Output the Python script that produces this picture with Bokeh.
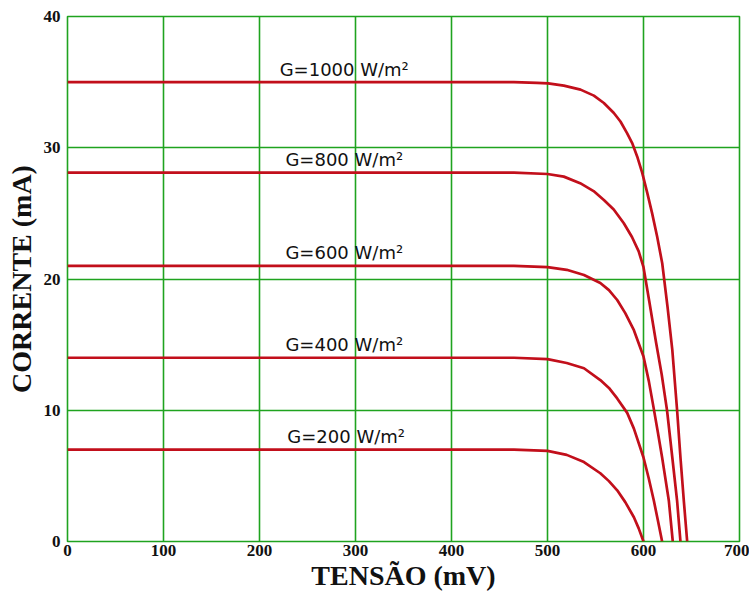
from bokeh.plotting import figure
from bokeh.models import Range1d, FixedTicker
from bokeh.core.properties import value
from bokeh.embed import file_html
from bokeh.resources import INLINE

# ---- data (tensão in mV, corrente in mA) ----
V_1000 = [0, 430, 465, 489, 500.7, 517, 534.4, 548.3, 558.7, 569.1, 576, 583, 588.2, 593.4,
          598.6, 603.8, 609, 614.3, 619.5, 625, 630, 635, 638.5, 642, 645.5]
I_1000 = [35.0, 35.0, 35.0, 34.95, 34.9, 34.73, 34.43, 33.97, 33.41, 32.65, 32.0, 31.1, 30.36, 29.34,
          28.1, 26.6, 25.0, 23.2, 21.2, 17.9, 14.6, 10.0, 6.4, 3.1, 0.0]

V_800 = [0, 430, 465, 500, 517, 534, 548, 559, 569, 579.5, 588, 595, 600, 606, 613, 619, 624.5,
         630, 635, 638.5]
I_800 = [28.1, 28.1, 28.1, 28.0, 27.8, 27.3, 26.7, 26.0, 25.3, 24.25, 23.2, 22.1, 20.9, 18.3, 15.2,
         12.7, 10.0, 6.4, 3.1, 0.0]

V_600 = [0, 430, 465, 500, 520, 538, 555, 564, 572.6, 581, 590, 600, 605.6, 610.5, 615, 619.4,
         626.4, 630.5]
I_600 = [21.0, 21.0, 21.0, 20.9, 20.7, 20.3, 19.7, 19.15, 18.4, 17.4, 16.1, 14.1, 12.2, 10.2, 8.3,
         6.4, 3.1, 0.0]

V_400 = [0, 430, 465, 500, 520, 538, 555, 564, 572.6, 583, 590, 600, 605.5, 610.8, 615, 619.4]
I_400 = [14.0, 14.0, 14.0, 13.9, 13.6, 13.2, 12.3, 11.7, 10.9, 9.8, 8.6, 6.4, 4.8, 3.1, 1.6, 0.0]

V_200 = [0, 430, 465, 500, 520, 538, 555, 564, 572.6, 581, 590, 595, 600]
I_200 = [7.0, 7.0, 7.0, 6.9, 6.6, 6.05, 5.2, 4.6, 3.9, 3.0, 1.85, 1.0, 0.0]

LABELS = ["G=1000 W/m²", "G=800 W/m²", "G=600 W/m²", "G=400 W/m²", "G=200 W/m²"]
LABEL_LEVEL = [35.0, 28.1, 21.0, 14.0, 7.0]
LABEL_X = [221, 227, 227, 227, 229]

X_TICKS = [0, 100, 200, 300, 400, 500, 600, 700]
Y_TICKS = [0, 10, 20, 30, 40]

GREEN = "#1fa31f"
RED = "#c20f1b"

p = figure(width=749, height=594,
           x_range=Range1d(0, 700), y_range=Range1d(0, 40),
           output_backend="svg", toolbar_location=None,
           min_border_left=67, min_border_right=10,
           min_border_top=16, min_border_bottom=53)

p.background_fill_color = "white"
p.border_fill_color = "white"
p.outline_line_color = GREEN
p.outline_line_width = 1.6

for g in (p.xgrid, p.ygrid):
    g.grid_line_color = GREEN
    g.grid_line_width = 1.6
p.xgrid.ticker = FixedTicker(ticks=X_TICKS)
p.ygrid.ticker = FixedTicker(ticks=Y_TICKS)

p.xaxis.ticker = FixedTicker(ticks=X_TICKS)
p.yaxis.ticker = FixedTicker(ticks=Y_TICKS)

for ax in (p.xaxis[0], p.yaxis[0]):
    ax.axis_line_color = None
    ax.major_tick_line_color = None
    ax.minor_tick_line_color = None
    ax.major_tick_out = 0
    ax.major_tick_in = 0
    ax.major_label_text_font = "Liberation Serif"
    ax.major_label_text_font_style = "bold"
    ax.major_label_text_color = "#111111"
    ax.axis_label_text_font = "Liberation Serif"
    ax.axis_label_text_font_style = "bold"
    ax.axis_label_text_color = "#111111"
    ax.axis_label_text_font_size = "28px"

p.xaxis.major_label_text_font_size = "17px"
p.yaxis.major_label_text_font_size = "17px"
p.xaxis.major_label_standoff = 3
p.yaxis.major_label_standoff = 7
p.xaxis.axis_label = "TENSÃO (mV)"
p.yaxis.axis_label = "CORRENTE (mA)"
p.xaxis.axis_label_standoff = 1
p.yaxis.axis_label_standoff = 4

for vx, iy in ((V_1000, I_1000), (V_800, I_800), (V_600, I_600), (V_400, I_400), (V_200, I_200)):
    p.line(vx, iy, line_color=RED, line_width=2.7, line_join="round")

p.text(x=LABEL_X, y=LABEL_LEVEL, text=LABELS,
       text_font=value("DejaVu Sans"), text_font_size="18px",
       text_color="#111111", text_baseline="alphabetic", text_align="left",
       y_offset=-13)

open("out.html", "w").write(file_html(p, INLINE))
